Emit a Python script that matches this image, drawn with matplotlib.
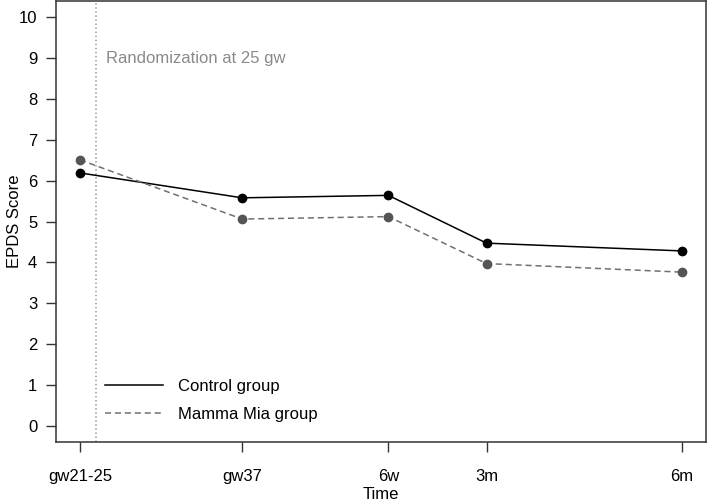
import matplotlib
matplotlib.use('Agg')
import matplotlib.pyplot as plt

# time points (spacing as in the original figure)
time_labels = ['gw21-25', 'gw37', '6w', '3m', '6m']
time_pos = [0, 1.62, 3.08, 4.06, 6.01]
randomization_pos = 0.16

control_scores = [6.19, 5.58, 5.64, 4.47, 4.28]
mammamia_scores = [6.51, 5.06, 5.12, 3.97, 3.76]

plt.rcParams['font.family'] = ['Liberation Sans', 'DejaVu Sans']
plt.rcParams['font.size'] = 12


def plot_scores():
    fig = plt.figure(figsize=(7.08, 5.04), dpi=100)
    ax = fig.add_axes([0.079, 0.123, 0.918, 0.875])

    ax.axvline(randomization_pos, color='#999999', linestyle=':', linewidth=1.1)

    ax.plot(time_pos, control_scores, color='black', linewidth=1.1,
            marker='o', markersize=6, label='Control group')
    ax.plot(time_pos, mammamia_scores, color='#707070', linewidth=1.1,
            linestyle=(0, (4, 2.5)), marker='o', markersize=6,
            markerfacecolor='#555555', markeredgecolor='#555555',
            label='Mamma Mia group')

    ax.text(randomization_pos + 0.1, 9, 'Randomization at 25 gw',
            color='#8a8a8a', va='center', ha='left')

    ax.set_xlim(-0.24, 6.25)
    ax.set_ylim(-0.4, 10.4)
    ax.set_xticks(time_pos)
    ax.set_xticklabels(time_labels)
    ax.set_yticks(range(0, 11))
    ax.tick_params(direction='out', length=7.5, width=1, color='#333333')
    ax.tick_params(axis='y', pad=6)
    ax.tick_params(axis='x', pad=12)
    for s in ax.spines.values():
        s.set_color('#333333')
        s.set_linewidth(1.1)

    ax.set_xlabel('Time', va='center')
    ax.xaxis.set_label_coords(0.5, -0.118)
    ax.set_ylabel('EPDS Score', va='center')
    ax.yaxis.set_label_coords(-0.064, 0.5)

    leg = ax.legend(loc='lower left', bbox_to_anchor=(0.052, 0.012),
                    frameon=False, handlelength=3.5, handletextpad=0.9,
                    labelspacing=0.75)
    for h in leg.legend_handles:
        h.set_marker('')

    fig.savefig('out.png', dpi=100)


def main():
    plot_scores()


if __name__ == '__main__':
    main()
